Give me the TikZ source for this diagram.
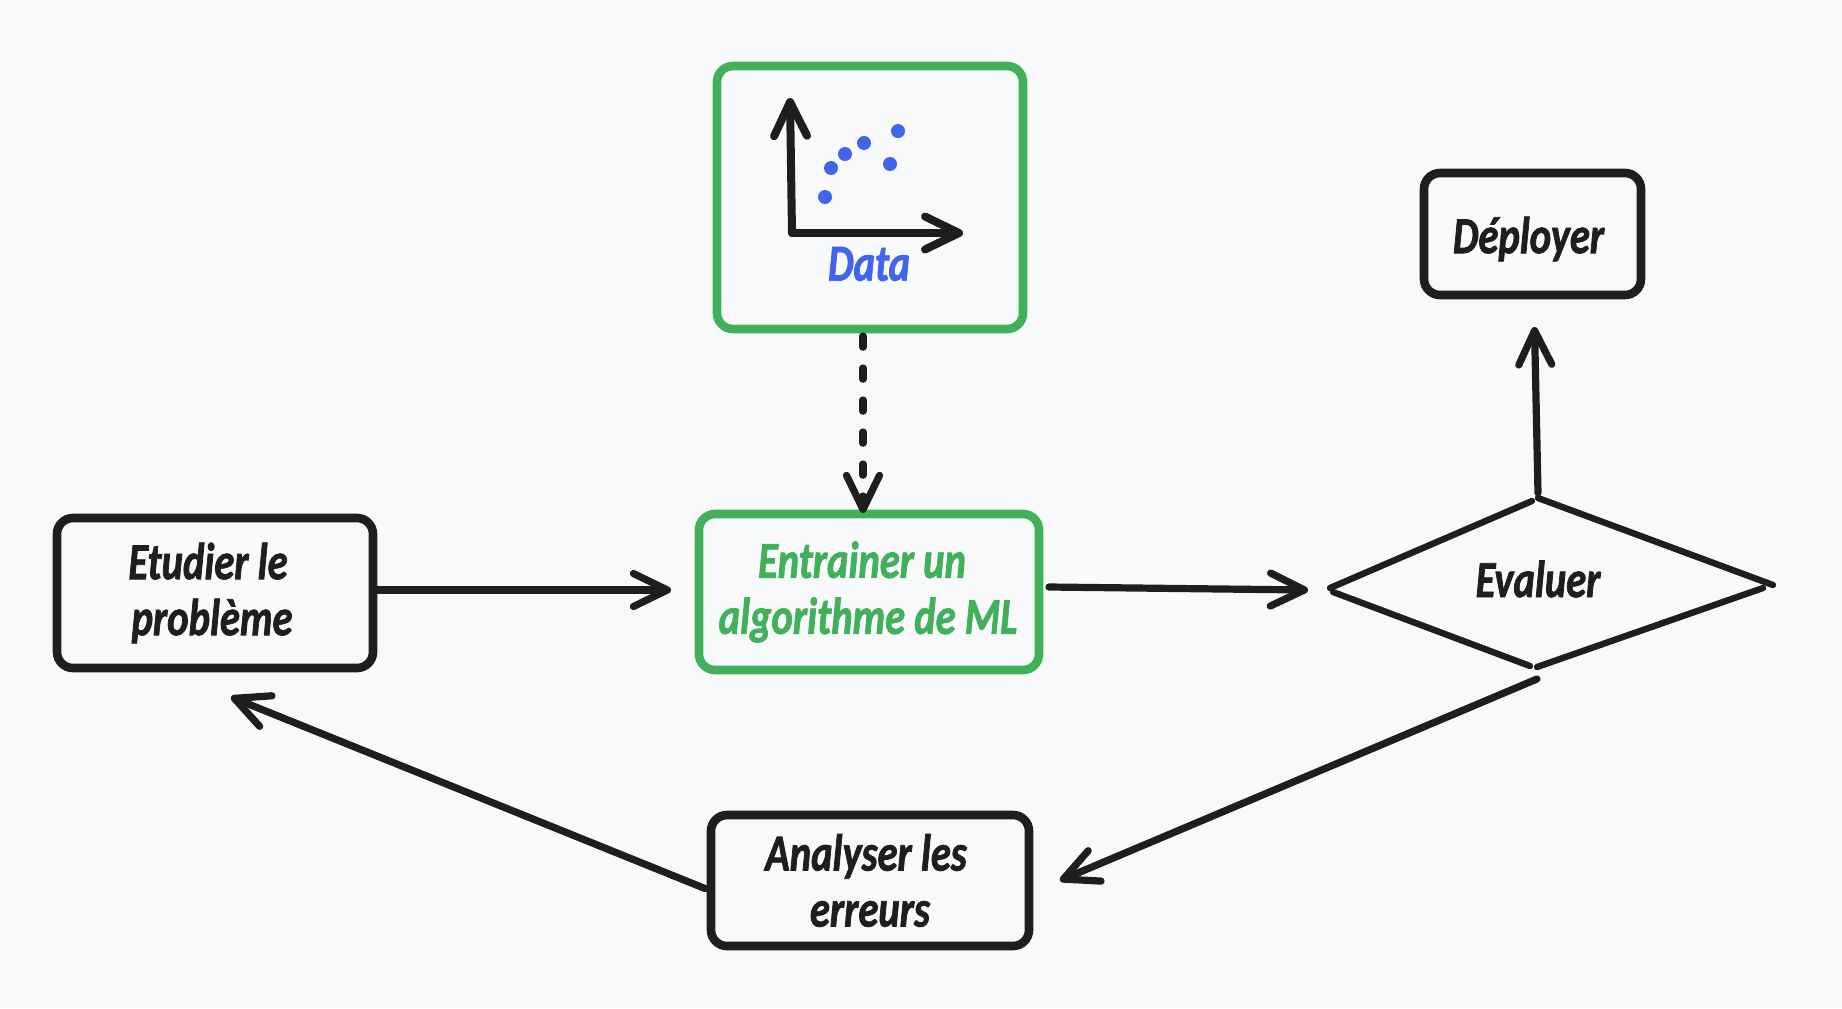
\documentclass[tikz,border=0pt]{standalone}
\usepackage{fontspec}
\setmainfont{Carlito}[FakeStretch=0.78,BoldItalicFeatures={FakeBold=1.4}]
\usetikzlibrary{shapes.geometric,arrows.meta}
\definecolor{bg}{HTML}{F8F9FB}
\definecolor{ink}{HTML}{1E1E1E}
\definecolor{grn}{HTML}{40B05A}
\definecolor{blu}{HTML}{4263EB}
\tikzset{
  x=0.5pt,y=-0.5pt,
  hand/.style={font=\fontsize{26}{28}\selectfont\bfseries\itshape,align=center,text=ink,inner sep=0pt},
  boxk/.style={hand,draw=ink,line width=4.3pt,rounded corners=8pt,outer sep=0pt},
  boxg/.style={hand,draw=grn,line width=4.3pt,rounded corners=8pt,outer sep=0pt},
  tip/.style={-{Straight Barb[length=17pt,width=16.5pt,round]}},
  conn/.style={draw=ink,line width=3.6pt,line cap=round,line join=round,tip},
  dia/.style={draw=ink,line width=3.2pt,line cap=round},
  axis/.style={conn,line width=4pt},
  dotb/.style={circle,fill=blu,minimum size=7pt,inner sep=0pt},
}
\begin{document}
\begin{tikzpicture}
\useasboundingbox (0,0) rectangle (1842,1008);
\fill[bg] (0,0) rectangle (1842,1008);
% boxes
\node[boxg,minimum width=153pt,minimum height=131.5pt] (data) at (870,197.5) {};
\node[boxg,text=grn,minimum width=170pt,minimum height=78pt] (train) at (869,592) {\hspace*{-7pt}Entrainer un\\\hspace*{-1pt}algorithme de ML};
\node[boxk,minimum width=158pt,minimum height=75pt] (study) at (215,593) {\hspace*{-7pt}Etudier le\\\hspace*{-3pt}problème};
\node[boxk,minimum width=159pt,minimum height=65.5pt] (errors) at (870,880.5) {\hspace*{-4pt}Analyser les\\erreurs};
\node[boxk,minimum width=108.5pt,minimum height=61pt] (deploy) at (1532.5,234) {\raisebox{-2.5pt}[\height][\depth]{\hspace*{-4pt}Déployer}};
% decision
\node[diamond,hand,minimum width=221pt,minimum height=85pt,outer sep=0pt] (eval) at (1538,579) {Evaluer};
\draw[dia] ([shift={(-208,9)}]eval.center) -- ([shift={(-6,-78)}]eval.center);
\draw[dia] ([shift={(0,-81)}]eval.center) -- ([shift={(235,6)}]eval.center);
\draw[dia] ([shift={(225,9)}]eval.center) -- ([shift={(-1,88)}]eval.center);
\draw[dia] ([shift={(-8,87)}]eval.center) -- ([shift={(-205,13)}]eval.center);
% data plot
\draw[axis] (792,233) -- (790,98);
\draw[axis] (792,233) -- (963,233);
\node[dotb] (p1) at (825,197) {};
\node[dotb] (p2) at (831,168) {};
\node[dotb] (p3) at (845,154) {};
\node[dotb] (p4) at (864,143) {};
\node[dotb] (p5) at (890,164) {};
\node[dotb] (p6) at (898,131) {};
\node[hand,text=blu] (dlabel) at (869,264) {Data};
% connectors
\draw[conn,dash pattern=on 5.6pt off 10.4pt] ([shift={(-7,7)}]data.south) -- ([shift={(-6,-1)}]train.north);
\draw[conn] ([shift={(3,-3)}]study.east) -- ([shift={(-28,-2)}]train.west);
\draw[conn] ([shift={(10,-5)}]train.east) -- ([shift={(-230,11)}]eval.center);
\draw[conn] ([shift={(0,-86)}]eval.center) -- ([shift={(2,32)}]deploy.south);
\draw[conn] ([shift={(-1,100)}]eval.center) -- ([shift={(31,0)}]errors.east);
\draw[conn] ([shift={(-6,8)}]errors.west) -- ([shift={(16,29)}]study.south);
\end{tikzpicture}
\end{document}
